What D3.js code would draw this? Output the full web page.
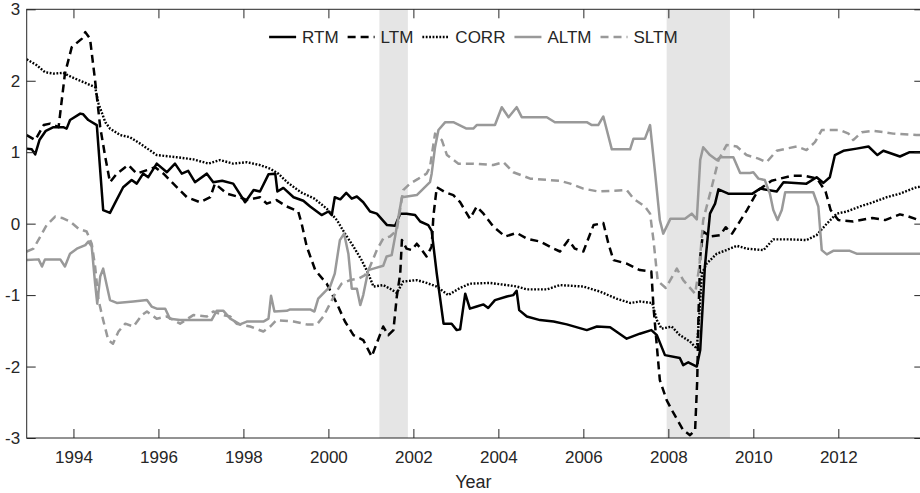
<!DOCTYPE html>
<html>
<head>
<meta charset="utf-8">
<script src="https://cdn.jsdelivr.net/npm/d3@7"></script>
<style>
  body { margin: 0; background: #fff; }
  svg text { font-family: "Liberation Sans", Arial, sans-serif; fill: #262626; }
</style>
</head>
<body>
<svg class="chart" width="920" height="493"></svg>
<script>
// [year, value]
var rtm = [[1992.9,1.05],[1993.02,1.04],[1993.1,0.97],[1993.2,1.17],[1993.35,1.3],[1993.53,1.35],[1993.76,1.35],[1993.84,1.33],[1993.92,1.45],[1994.16,1.54],[1994.23,1.53],[1994.35,1.45],[1994.55,1.38],[1994.7,0.19],[1994.86,0.15],[1994.98,0.29],[1995.17,0.51],[1995.37,0.61],[1995.49,0.56],[1995.64,0.7],[1995.76,0.65],[1995.96,0.84],[1996.2,0.72],[1996.39,0.84],[1996.55,0.7],[1996.7,0.74],[1996.86,0.58],[1997.14,0.7],[1997.29,0.58],[1997.5,0.6],[1997.76,0.56],[1998.04,0.3],[1998.24,0.47],[1998.39,0.45],[1998.59,0.69],[1998.75,0.7],[1998.8,0.45],[1998.94,0.5],[1999.18,0.37],[1999.41,0.32],[1999.57,0.24],[1999.84,0.12],[2000.0,0.17],[2000.08,0.12],[2000.15,0.37],[2000.28,0.34],[2000.42,0.43],[2000.55,0.35],[2000.67,0.38],[2000.82,0.3],[2000.98,0.17],[2001.14,0.14],[2001.38,-0.02],[2001.57,-0.03],[2001.69,0.14],[2001.84,0.14],[2002.04,0.12],[2002.16,0.03],[2002.35,-0.02],[2002.43,-0.1],[2002.55,-0.7],[2002.71,-1.4],[2002.9,-1.4],[2003.02,-1.49],[2003.1,-1.48],[2003.22,-0.98],[2003.33,-1.19],[2003.49,-1.16],[2003.65,-1.13],[2003.76,-1.18],[2003.92,-1.07],[2004.2,-1.02],[2004.35,-1.0],[2004.43,-0.94],[2004.49,-1.21],[2004.67,-1.3],[2004.98,-1.35],[2005.3,-1.37],[2005.61,-1.41],[2006.08,-1.49],[2006.32,-1.44],[2006.63,-1.45],[2007.02,-1.61],[2007.33,-1.54],[2007.6,-1.49],[2007.73,-1.56],[2007.92,-1.84],[2008.27,-1.88],[2008.35,-1.98],[2008.47,-1.94],[2008.67,-2.0],[2008.75,-1.77],[2008.86,-0.6],[2008.98,0.14],[2009.1,0.28],[2009.18,0.48],[2009.41,0.42],[2009.98,0.42],[2010.16,0.49],[2010.55,0.45],[2010.71,0.58],[2011.25,0.56],[2011.49,0.65],[2011.65,0.57],[2011.8,0.65],[2011.92,0.96],[2012.12,1.02],[2012.43,1.05],[2012.71,1.08],[2012.92,0.96],[2013.06,1.02],[2013.45,0.94],[2013.68,1.0],[2014.0,1.0]];

var ltm = [[1992.9,1.24],[1993.1,1.17],[1993.3,1.38],[1993.45,1.4],[1993.65,1.35],[1993.8,2.1],[1993.96,2.47],[1994.2,2.59],[1994.28,2.68],[1994.39,2.59],[1994.51,2.0],[1994.63,1.35],[1994.75,0.93],[1994.86,0.58],[1995.02,0.7],[1995.29,0.82],[1995.49,0.7],[1995.73,0.75],[1995.92,0.79],[1996.12,0.7],[1996.35,0.56],[1996.67,0.37],[1996.98,0.3],[1997.22,0.37],[1997.33,0.56],[1997.61,0.42],[1997.92,0.37],[1998.08,0.33],[1998.39,0.37],[1998.55,0.28],[1998.78,0.33],[1999.02,0.24],[1999.29,0.17],[1999.37,0.0],[1999.49,-0.32],[1999.69,-0.65],[1999.96,-0.84],[2000.2,-1.12],[2000.39,-1.37],[2000.59,-1.56],[2000.82,-1.63],[2001.02,-1.86],[2001.14,-1.67],[2001.29,-1.44],[2001.41,-1.56],[2001.53,-1.49],[2001.61,-1.02],[2001.69,-0.7],[2001.73,-0.23],[2001.84,-0.35],[2001.96,-0.37],[2002.08,-0.28],[2002.2,-0.37],[2002.31,-0.46],[2002.43,-0.32],[2002.47,0.1],[2002.55,0.51],[2002.75,0.44],[2002.94,0.4],[2003.1,0.3],[2003.33,0.07],[2003.49,0.24],[2003.65,0.14],[2003.88,-0.04],[2004.16,-0.18],[2004.43,-0.13],[2004.67,-0.21],[2004.98,-0.25],[2005.3,-0.35],[2005.45,-0.39],[2005.65,-0.23],[2005.8,-0.35],[2006.0,-0.39],[2006.24,-0.02],[2006.47,0.01],[2006.59,-0.28],[2006.71,-0.51],[2007.02,-0.56],[2007.33,-0.65],[2007.6,-0.67],[2007.65,-1.16],[2007.73,-1.72],[2007.8,-2.19],[2007.96,-2.47],[2008.12,-2.65],[2008.35,-2.89],[2008.51,-2.96],[2008.63,-2.89],[2008.68,-2.19],[2008.71,-1.26],[2008.75,-0.46],[2008.82,-0.11],[2008.98,-0.18],[2009.22,-0.16],[2009.35,-0.05],[2009.5,-0.14],[2009.65,0.0],[2009.85,0.19],[2010.0,0.35],[2010.12,0.47],[2010.43,0.6],[2010.9,0.67],[2011.2,0.67],[2011.5,0.63],[2011.7,0.45],[2011.82,0.19],[2012.0,0.05],[2012.35,0.03],[2012.8,0.08],[2013.1,0.05],[2013.45,0.13],[2013.65,0.1],[2014.0,0.03]];

var corr = [[1992.9,2.3],[1993.13,2.22],[1993.33,2.12],[1993.53,2.1],[1993.76,2.11],[1993.96,2.05],[1994.24,1.98],[1994.51,1.91],[1994.59,1.68],[1994.75,1.42],[1994.86,1.33],[1995.1,1.24],[1995.33,1.21],[1995.57,1.12],[1995.96,0.96],[1996.43,0.93],[1996.82,0.9],[1997.18,0.84],[1997.45,0.89],[1997.76,0.84],[1998.08,0.86],[1998.39,0.82],[1998.63,0.77],[1998.82,0.7],[1999.05,0.57],[1999.35,0.44],[1999.67,0.35],[1999.96,0.21],[2000.2,0.05],[2000.39,-0.14],[2000.59,-0.32],[2000.78,-0.51],[2000.94,-0.7],[2001.06,-0.88],[2001.29,-0.86],[2001.45,-0.91],[2001.61,-0.97],[2001.76,-0.81],[2002.08,-0.79],[2002.31,-0.83],[2002.55,-0.88],[2002.82,-1.0],[2003.1,-0.9],[2003.33,-0.84],[2003.8,-0.83],[2004.2,-0.86],[2004.43,-0.88],[2004.67,-0.92],[2005.14,-0.92],[2005.45,-0.86],[2006.0,-0.88],[2006.39,-0.95],[2006.78,-1.05],[2007.1,-1.11],[2007.33,-1.09],[2007.62,-1.11],[2007.73,-1.35],[2007.84,-1.47],[2008.08,-1.44],[2008.27,-1.56],[2008.51,-1.65],[2008.67,-1.75],[2008.73,-1.26],[2008.79,-0.7],[2008.9,-0.56],[2009.14,-0.42],[2009.37,-0.37],[2009.61,-0.31],[2009.84,-0.35],[2010.24,-0.37],[2010.47,-0.22],[2010.86,-0.22],[2011.25,-0.23],[2011.49,-0.16],[2011.73,0.0],[2011.96,0.14],[2012.2,0.17],[2012.51,0.24],[2012.82,0.3],[2013.14,0.37],[2013.45,0.42],[2013.84,0.51],[2014.0,0.52]];

var altm = [[1992.9,-0.51],[1993.18,-0.5],[1993.26,-0.6],[1993.33,-0.5],[1993.69,-0.5],[1993.8,-0.6],[1993.92,-0.42],[1994.08,-0.35],[1994.28,-0.3],[1994.35,-0.25],[1994.43,-0.32],[1994.51,-0.84],[1994.56,-1.12],[1994.63,-0.74],[1994.7,-0.63],[1994.79,-0.88],[1994.86,-1.07],[1995.02,-1.11],[1995.41,-1.09],[1995.73,-1.07],[1995.84,-1.16],[1995.96,-1.19],[1996.16,-1.19],[1996.27,-1.33],[1996.51,-1.35],[1997.25,-1.35],[1997.37,-1.22],[1997.53,-1.22],[1997.69,-1.33],[1997.92,-1.41],[1998.08,-1.37],[1998.47,-1.37],[1998.59,-1.33],[1998.65,-1.01],[1998.73,-1.23],[1999.02,-1.22],[1999.1,-1.2],[1999.57,-1.2],[1999.67,-1.23],[1999.76,-1.05],[1999.92,-0.95],[2000.04,-0.88],[2000.15,-0.7],[2000.27,-0.23],[2000.37,-0.14],[2000.47,-0.42],[2000.55,-0.91],[2000.67,-0.91],[2000.75,-1.14],[2000.82,-1.0],[2000.94,-0.65],[2001.06,-0.63],[2001.29,-0.59],[2001.37,-0.46],[2001.49,-0.44],[2001.57,-0.18],[2001.65,0.1],[2001.73,0.37],[2002.08,0.4],[2002.2,0.47],[2002.39,0.58],[2002.43,0.7],[2002.51,1.07],[2002.59,1.31],[2002.75,1.42],[2002.94,1.42],[2003.25,1.33],[2003.41,1.33],[2003.49,1.38],[2003.92,1.38],[2004.08,1.63],[2004.24,1.49],[2004.43,1.63],[2004.55,1.49],[2005.14,1.49],[2005.33,1.42],[2006.08,1.42],[2006.2,1.38],[2006.35,1.38],[2006.47,1.5],[2006.67,1.04],[2007.1,1.04],[2007.18,1.19],[2007.45,1.19],[2007.57,1.38],[2007.69,0.7],[2007.8,0.05],[2007.88,-0.14],[2008.05,0.07],[2008.39,0.07],[2008.55,0.14],[2008.67,0.06],[2008.75,0.89],[2008.82,1.07],[2008.98,0.96],[2009.14,0.89],[2009.22,0.93],[2009.53,0.93],[2009.69,0.71],[2009.92,0.71],[2010.0,0.72],[2010.12,0.63],[2010.27,0.61],[2010.39,0.42],[2010.47,0.19],[2010.57,0.05],[2010.67,0.19],[2010.75,0.44],[2011.41,0.44],[2011.53,0.24],[2011.61,-0.37],[2011.73,-0.43],[2011.88,-0.38],[2012.27,-0.38],[2012.43,-0.42],[2014.0,-0.42]];

var sltm = [[1992.9,-0.39],[1993.06,-0.35],[1993.22,-0.18],[1993.37,-0.02],[1993.57,0.1],[1993.73,0.08],[1993.92,0.03],[1994.12,-0.07],[1994.31,-0.11],[1994.43,-0.28],[1994.51,-0.6],[1994.59,-1.07],[1994.7,-1.35],[1994.82,-1.63],[1994.93,-1.68],[1995.06,-1.51],[1995.22,-1.4],[1995.41,-1.44],[1995.61,-1.28],[1995.73,-1.23],[1995.96,-1.33],[1996.2,-1.3],[1996.51,-1.4],[1996.82,-1.28],[1997.14,-1.3],[1997.29,-1.23],[1997.53,-1.28],[1997.69,-1.3],[1997.84,-1.4],[1998.16,-1.44],[1998.47,-1.51],[1998.63,-1.44],[1998.78,-1.35],[1999.18,-1.37],[1999.49,-1.41],[1999.73,-1.41],[1999.88,-1.3],[2000.04,-1.12],[2000.16,-0.98],[2000.31,-0.84],[2000.51,-0.79],[2000.71,-0.77],[2000.86,-0.72],[2000.98,-0.6],[2001.14,-0.37],[2001.29,-0.21],[2001.45,-0.18],[2001.61,-0.09],[2001.76,0.47],[2001.92,0.56],[2002.12,0.63],[2002.31,0.7],[2002.39,0.79],[2002.51,1.26],[2002.67,1.17],[2002.79,0.96],[2003.06,0.84],[2003.41,0.84],[2003.88,0.82],[2004.12,0.86],[2004.35,0.72],[2004.75,0.63],[2005.45,0.6],[2005.69,0.56],[2006.0,0.49],[2006.35,0.45],[2007.02,0.47],[2007.18,0.35],[2007.45,0.24],[2007.57,0.14],[2007.65,-0.23],[2007.75,-0.8],[2007.94,-0.9],[2008.2,-0.63],[2008.35,-0.79],[2008.63,-0.98],[2008.73,-0.6],[2008.82,0.05],[2009.02,0.51],[2009.18,0.89],[2009.37,1.1],[2009.61,1.08],[2009.84,0.96],[2010.12,0.91],[2010.31,0.86],[2010.55,1.02],[2010.78,1.05],[2011.02,1.08],[2011.25,1.03],[2011.45,1.14],[2011.61,1.31],[2012.04,1.31],[2012.24,1.26],[2012.35,1.17],[2012.55,1.28],[2012.82,1.3],[2013.29,1.26],[2013.84,1.24],[2014.0,1.24]];

var seriesNames = ["RTM", "LTM", "CORR", "ALTM", "SLTM"];
var recessions = [[2001.2, 2001.87], [2007.96, 2009.45]];
var xTicks = [1994, 1996, 1998, 2000, 2002, 2004, 2006, 2008, 2010, 2012];
var yTicks = [-3, -2, -1, 0, 1, 2, 3];

(function() {
  var margin = {top: 9.3, right: -3.3, bottom: 55, left: 26.7};

  var svg = d3.select(".chart"),
      svgWidth  = +svg.attr("width"),
      svgHeight = +svg.attr("height"),
      width = svgWidth - margin.left - margin.right,
      height = svgHeight - margin.top - margin.bottom;

  var axisColor = "#262626",
      gray = "#999999";

  var styles = {
    RTM:  {data: rtm,  color: "#000", dash: null,      w: 2.5},
    LTM:  {data: ltm,  color: "#000", dash: "8,5",     w: 2.5},
    CORR: {data: corr, color: "#000", dash: "1.8,1.6", w: 2.4},
    ALTM: {data: altm, color: gray,   dash: null,      w: 2.5},
    SLTM: {data: sltm, color: gray,   dash: "8,5",     w: 2.5}
  };

  var chart = svg.append("g")
    .attr("transform", "translate(" + margin.left + "," + margin.top + ")");

  var xScale = d3.scaleLinear()
    .domain([1992.9, 2014])
    .range([0, width]);

  var yScale = d3.scaleLinear()
    .domain([-3, 3])
    .range([height, 0]);

  svg.append("defs").append("clipPath")
    .attr("id", "clip")
    .append("rect")
    .attr("width", width)
    .attr("height", height);

  // recession shading
  chart.selectAll("rect.rec")
    .data(recessions)
    .enter().append("rect")
    .attr("class", "rec")
    .attr("x", function(d) { return xScale(d[0]); })
    .attr("width", function(d) { return xScale(d[1]) - xScale(d[0]); })
    .attr("y", 0)
    .attr("height", height)
    .attr("fill", "#e5e5e5");

  var line = d3.line()
    .x(function(d) { return xScale(d[0]); })
    .y(function(d) { return yScale(d[1]); });

  var lines = chart.append("g").attr("clip-path", "url(#clip)");

  seriesNames.forEach(function(name) {
    var s = styles[name];
    lines.append("path")
      .datum(s.data)
      .attr("fill", "none")
      .attr("stroke", s.color)
      .attr("stroke-width", s.w)
      .attr("stroke-dasharray", s.dash)
      .attr("stroke-linejoin", "round")
      .attr("d", line);
  });

  var fmt = function(d) { return d < 0 ? "-" + Math.abs(d) : "" + d; };

  // Add the x Axis
  chart.append("g")
    .attr("transform", "translate(0," + height + ")")
    .call(d3.axisBottom(xScale).tickValues(xTicks).tickFormat(d3.format("d"))
      .tickSizeInner(-9).tickSizeOuter(0).tickPadding(12.7));

  chart.append("g")
    .call(d3.axisTop(xScale).tickValues(xTicks).tickFormat("")
      .tickSizeInner(-9).tickSizeOuter(0));

  // Add the y Axis
  chart.append("g")
    .call(d3.axisLeft(yScale).tickValues(yTicks).tickFormat(fmt)
      .tickSizeInner(-9).tickSizeOuter(0).tickPadding(6.5));

  chart.append("g")
    .attr("transform", "translate(" + width + ",0)")
    .call(d3.axisRight(yScale).tickValues(yTicks).tickFormat("")
      .tickSizeInner(-9).tickSizeOuter(0));

  chart.selectAll(".domain").remove();
  chart.selectAll(".tick line").attr("stroke", axisColor);
  chart.selectAll(".tick text")
    .attr("fill", axisColor)
    .style("font-size", "17px");

  // box
  chart.append("rect")
    .attr("width", width)
    .attr("height", height)
    .attr("fill", "none")
    .attr("stroke", axisColor)
    .attr("stroke-width", 1);

  chart.append("text")
    .attr("x", (svgWidth - margin.left) / 2)
    .attr("y", height + 50.5)
    .style("text-anchor", "middle")
    .style("font-size", "18px")
    .text("Year");

  // legend
  var legend = chart.append("g");
  var lx = 0, ly = 37 - margin.top, segLen = 27, gap1 = 6, gap2 = 9;
  seriesNames.forEach(function(name) {
    var s = styles[name];
    legend.append("line")
      .attr("x1", lx).attr("x2", lx + segLen)
      .attr("y1", ly).attr("y2", ly)
      .attr("stroke", s.color)
      .attr("stroke-width", s.w)
      .attr("stroke-dasharray", s.dash);
    lx += segLen + gap1;
    var t = legend.append("text")
      .attr("x", lx)
      .attr("y", ly)
      .attr("dy", "0.36em")
      .style("font-size", "17px")
      .text(name);
    lx += t.node().getComputedTextLength() + gap2;
  });
  var total = lx - gap2;
  legend.attr("transform", "translate(" + ((svgWidth - margin.left) / 2 - total / 2) + ",0)");
})();
</script>
</body>
</html>
